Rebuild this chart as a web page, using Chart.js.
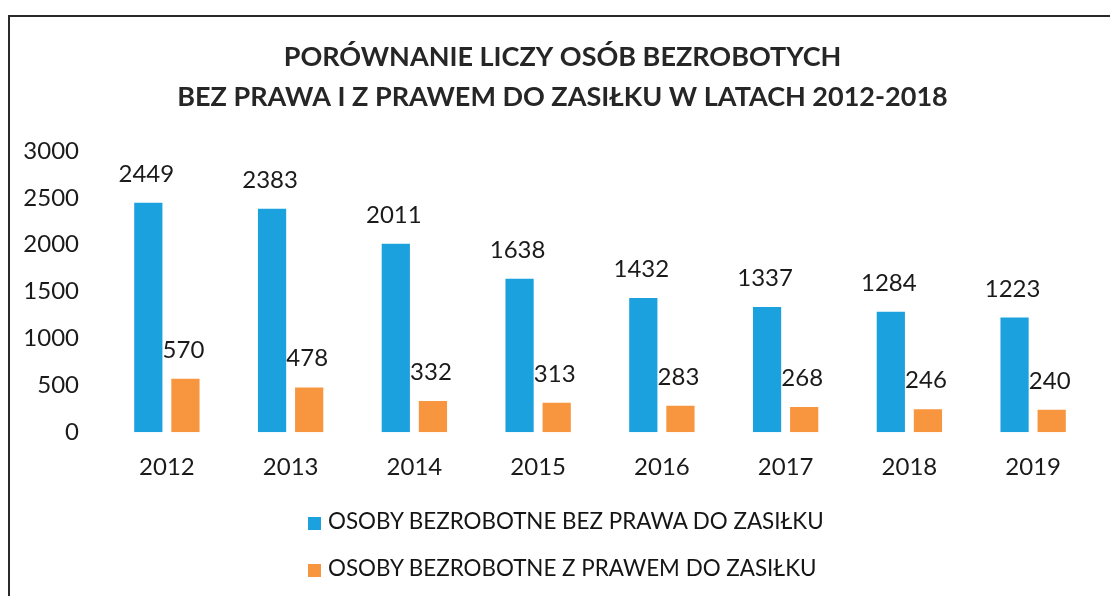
<!DOCTYPE html>
<html lang="pl">
<head>
  <meta charset="UTF-8">
  <title>Porównanie liczby osób bezrobotnych</title>
  <script src="https://cdn.jsdelivr.net/npm/chart.js"></script>
  <style>
    body {
      margin: 0;
      background: #fff;
      width: 1110px;
      height: 596px;
      overflow: hidden;
      position: relative;
      font-family: 'Lato', sans-serif;
    }
    .frame {
      position: absolute;
      left: 8px;
      top: 15px;
      width: 1200px;
      height: 700px;
      border-left: 2px solid #2a2a2a;
      border-top: 2px solid #2a2a2a;
      pointer-events: none;
    }
    #wrap {
      position: absolute;
      left: 0;
      top: 0;
      width: 1110px;
      height: 596px;
    }
    .legend {
      position: absolute;
      left: 308px;
      top: 504px;
      color: #151515;
      font-size: 22.4px;
    }
    .legend div {
      height: 47px;
      line-height: 34px;
      white-space: nowrap;
    }
    .legend span {
      display: inline-block;
      width: 13px;
      height: 13px;
      margin-right: 7px;
      vertical-align: -1px;
    }
  </style>
</head>
<body>
  <div class="frame"></div>
  <div id="wrap"><canvas id="chart"></canvas></div>
  <div class="legend" id="legend"></div>

  <script>
    const years = ['2012', '2013', '2014', '2015', '2016', '2017', '2018', '2019'];
    const bezPrawa = [2449, 2383, 2011, 1638, 1432, 1337, 1284, 1223];
    const zPrawem = [570, 478, 332, 313, 283, 268, 246, 240];
    const seriesNames = ['OSOBY BEZROBOTNE BEZ PRAWA DO ZASIŁKU', 'OSOBY BEZROBOTNE Z PRAWEM DO ZASIŁKU'];
    const seriesColors = ['#1ba2de', '#f8953f'];
    const yTicks = [0, 500, 1000, 1500, 2000, 2500, 3000];

    // value labels above each bar
    const valueLabels = {
      id: 'valueLabels',
      afterLayout(chart) {
        // title in the scan sits a little right of the canvas centre
        if (chart.titleBlock) {
          chart.titleBlock.left += 4;
          chart.titleBlock.right += 4;
        }
      },
      afterDatasetsDraw(chart) {
        const ctx = chart.ctx;
        ctx.save();
        ctx.font = '24px Lato';
        ctx.fillStyle = '#1a1a1a';
        ctx.textAlign = 'center';
        ctx.textBaseline = 'alphabetic';
        chart.data.datasets.forEach((ds, i) => {
          chart.getDatasetMeta(i).data.forEach((bar, j) => {
            ctx.fillText(ds.data[j], bar.x - 2, bar.y - 21);
          });
        });
        ctx.restore();
      }
    };

    new Chart(document.getElementById('chart'), {
      type: 'bar',
      data: {
        labels: years,
        datasets: [
          { label: seriesNames[0], data: bezPrawa, backgroundColor: seriesColors[0] },
          { label: seriesNames[1], data: zPrawem, backgroundColor: seriesColors[1] }
        ]
      },
      options: {
        responsive: true,
        maintainAspectRatio: false,
        animation: false,
        categoryPercentage: 0.6,
        barPercentage: 0.76,
        layout: { padding: { left: 22, right: 15, top: 0, bottom: 93 } },
        scales: {
          x: {
            grid: { display: false, drawTicks: false },
            border: { display: false },
            ticks: { color: '#1a1a1a', font: { family: 'Lato', size: 24 }, padding: 21, maxRotation: 0 }
          },
          y: {
            min: 0,
            max: 3000,
            grid: { display: false, drawTicks: false },
            border: { display: false },
            afterBuildTicks: axis => { axis.ticks = yTicks.map(v => ({ value: v })); },
            afterFit: axis => { axis.width = 83; },
            ticks: { color: '#1a1a1a', font: { family: 'Lato', size: 24 }, padding: 26, callback: v => String(v) }
          }
        },
        plugins: {
          legend: { display: false },
          tooltip: { enabled: false },
          title: {
            display: true,
            text: ['PORÓWNANIE LICZY OSÓB BEZROBOTYCH', 'BEZ PRAWA I Z PRAWEM DO ZASIŁKU W LATACH 2012-2018'],
            color: '#262626',
            font: { family: 'Lato', size: 27, weight: 'bold', lineHeight: '40px' },
            padding: { top: 37, bottom: 34 }
          }
        }
      },
      plugins: [valueLabels]
    });

    const legend = document.getElementById('legend');
    seriesNames.forEach((name, i) => {
      const row = document.createElement('div');
      row.innerHTML = '<span style="background:' + seriesColors[i] + '"></span>' + name;
      legend.appendChild(row);
    });
  </script>
</body>
</html>
